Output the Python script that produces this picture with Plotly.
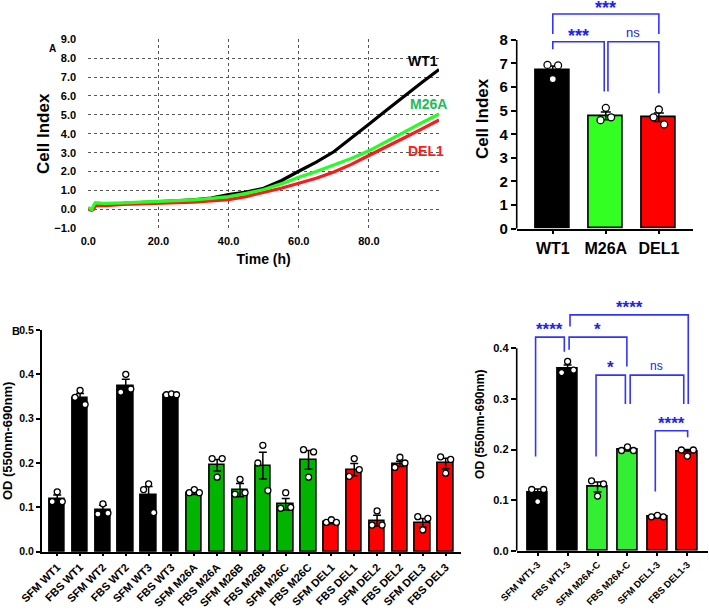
import plotly.graph_objects as go

FONT = "Liberation Sans, Arial, Helvetica, sans-serif"

# ---------------- Panel A (left): real-time cell index ----------------
time_h = [0, 1, 1.5, 2, 3, 5, 10, 15, 20, 25, 30, 35, 40, 45, 50, 55, 60, 65, 70, 75, 80, 85, 90, 95, 100]
wt1_ci = [0.05, 0.0, 0.1, 0.3, 0.32, 0.3, 0.32, 0.35, 0.38, 0.45, 0.5, 0.6, 0.78, 0.92, 1.12, 1.52, 2.02, 2.5, 3.05, 3.75, 4.5, 5.25, 6.0, 6.7, 7.4]
m26a_ci = [0.1, 0.0, 0.2, 0.35, 0.33, 0.32, 0.35, 0.38, 0.42, 0.45, 0.5, 0.58, 0.68, 0.85, 1.05, 1.35, 1.7, 2.0, 2.33, 2.7, 3.1, 3.6, 4.1, 4.58, 5.05]
del1_ci = [0.0, -0.05, 0.0, 0.18, 0.2, 0.2, 0.26, 0.28, 0.3, 0.33, 0.38, 0.45, 0.52, 0.68, 0.88, 1.12, 1.38, 1.65, 1.98, 2.38, 2.85, 3.3, 3.78, 4.25, 4.73]
line_x_ticks = [0, 20, 40, 60, 80]

# ---------------- Panel A (right): cell index bars ----------------
a_groups = ["WT1", "M26A", "DEL1"]
a_means = [6.7, 4.78, 4.72]
a_sems = [0.19, 0.16, 0.18]
a_points = [[6.94, 6.34, 6.92], [4.6, 5.12, 4.72], [4.72, 5.05, 4.42]]
a_yticks = [0, 1, 2, 3, 4, 5, 6, 7, 8]
# bracket: (x_left, x_right, y_top, y_left_end, y_right_end, label)
a_brackets = [
    (0.0, 2.0, 9.10, 8.25, 8.25, "***"),
    (0.0, 0.97, 7.92, 7.60, 5.81, "***"),
    (1.04, 2.0, 7.92, 5.81, 5.74, "ns"),
]

# ---------------- Panel B (left): OD per line ----------------
b_labels = ["SFM WT1", "FBS WT1", "SFM WT2", "FBS WT2", "SFM WT3", "FBS WT3",
            "SFM M26A", "FBS M26A", "SFM M26B", "FBS M26B", "SFM M26C", "FBS M26C",
            "SFM DEL1", "FBS DEL1", "SFM DEL2", "FBS DEL2", "SFM DEL3", "FBS DEL3"]
b_means = [0.118, 0.346, 0.093, 0.374, 0.127, 0.354,
           0.132, 0.195, 0.139, 0.194, 0.107, 0.207,
           0.066, 0.185, 0.070, 0.198, 0.065, 0.199]
b_sems = [0.010, 0.011, 0.012, 0.015, 0.020, 0.001,
          0.003, 0.013, 0.015, 0.030, 0.013, 0.021,
          0.003, 0.014, 0.012, 0.006, 0.010, 0.012]
b_points = [[0.113, 0.135, 0.113], [0.348, 0.364, 0.332], [0.085, 0.108, 0.087],
            [0.360, 0.400, 0.367], [0.140, 0.153, 0.088], [0.354, 0.356, 0.354],
            [0.133, 0.140, 0.133], [0.210, 0.168, 0.210], [0.130, 0.163, 0.133],
            [0.200, 0.240, 0.138], [0.098, 0.133, 0.100], [0.230, 0.168, 0.225],
            [0.066, 0.072, 0.066], [0.170, 0.210, 0.185], [0.060, 0.092, 0.060],
            [0.190, 0.213, 0.200], [0.079, 0.049, 0.075], [0.214, 0.177, 0.208]]
b_group = ["WT"] * 6 + ["M26"] * 6 + ["DEL"] * 6

# ---------------- Panel B (right): pooled OD ----------------
c_labels = ["SFM WT1-3", "FBS WT1-3", "SFM M26A-C", "FBS M26A-C", "SFM DEL1-3", "FBS DEL1-3"]
c_means = [0.114, 0.359, 0.126, 0.200, 0.067, 0.196]
c_sems = [0.008, 0.008, 0.010, 0.003, 0.002, 0.004]
c_points = [[0.121, 0.097, 0.121], [0.352, 0.374, 0.357], [0.138, 0.108, 0.132],
            [0.198, 0.205, 0.198], [0.067, 0.070, 0.067], [0.199, 0.187, 0.199]]
c_group = ["WT", "WT", "M26", "M26", "DEL", "DEL"]
c_yticks = [0.0, 0.1, 0.2, 0.3, 0.4]
c_brackets = [
    (-0.07, 0.89, 0.422, 0.186, 0.393, "****"),
    (1.05, 2.98, 0.422, 0.397, 0.364, "*"),
    (1.08, 5.03, 0.466, 0.443, 0.290, "****"),
    (1.95, 2.93, 0.347, 0.186, 0.290, "*"),
    (3.09, 4.88, 0.347, 0.290, 0.290, "ns"),
    (3.93, 5.01, 0.237, 0.117, 0.224, "****"),
]

# ---------------- styles ----------------
colA = {"WT": "#000000", "M26": "#33ff22", "DEL": "#ff0000"}
colB = {"WT": "#000000", "M26": "#00b400", "DEL": "#ff0000"}
colC = {"WT": "#000000", "M26": "#33ee33", "DEL": "#ff0000"}
BLUE = "#3333ff"
BLUE_TXT = "#2222ee"

fig = go.Figure()

# line chart
for name, ys, c in [("WT1", wt1_ci, "#000000"), ("DEL1", del1_ci, "#ff1a1a"), ("M26A", m26a_ci, "#22ff22")]:
    fig.add_trace(go.Scatter(x=time_h, y=ys, mode="lines", line=dict(color=c, width=3.2),
                             xaxis="x", yaxis="y", showlegend=False, name=name))


def bar_panel(xa, ya, means, sems, points, colors, width, offs, msize, capw):
    n = len(means)
    xs = list(range(n))
    fig.add_trace(go.Bar(x=xs, y=means, width=width, marker=dict(color=colors, line=dict(color="black", width=1.6)),
                         error_y=dict(type="data", array=sems, color="black", thickness=1.5, width=capw),
                         xaxis=xa, yaxis=ya, showlegend=False))
    px, py = [], []
    for i, pts in enumerate(points):
        for k, v in enumerate(pts):
            px.append(i + offs[k])
            py.append(v)
    fig.add_trace(go.Scatter(x=px, y=py, mode="markers", cliponaxis=False,
                             marker=dict(symbol="circle", color="white", size=msize, line=dict(color="black", width=1.3)),
                             xaxis=xa, yaxis=ya, showlegend=False))


bar_panel("x2", "y2", a_means, a_sems, a_points, [colA[g] for g in ["WT", "M26", "DEL"]], 0.65, [-0.1, 0, 0.1], 7, 5)
bar_panel("x3", "y3", b_means, b_sems, b_points, [colB[g] for g in b_group], 0.67, [-0.22, 0, 0.22], 6, 4)
bar_panel("x4", "y4", c_means, c_sems, c_points, [colC[g] for g in c_group], 0.68, [-0.2, 0, 0.2], 6, 4)

shapes = []
annotations = []


def brackets(xr, yr, specs, star_size, ns_size, star_shift):
    for x0, x1, yt, yl, yrr, lab in specs:
        shapes.append(dict(type="path", xref=xr, yref=yr,
                           path=f"M {x0},{yl} L {x0},{yt} L {x1},{yt} L {x1},{yrr}",
                           line=dict(color=BLUE, width=1.6)))
        is_ns = lab == "ns"
        annotations.append(dict(x=(x0 + x1) / 2, y=yt, xref=xr, yref=yr, text=lab, showarrow=False,
                                yanchor="bottom", yshift=0 if is_ns else star_shift,
                                font=dict(family=FONT, size=ns_size if is_ns else star_size, color=BLUE_TXT,
                                          weight="normal" if is_ns else "bold")))


brackets("x2", "y2", a_brackets, 18, 13, -6)
brackets("x4", "y4", c_brackets, 17, 12, -4)

# custom y-axis lines (shorter than the extended ranges)
shapes.append(dict(type="line", xref="x2 domain", yref="y2", x0=0, x1=0, y0=0, y1=max(a_yticks),
                   line=dict(color="black", width=1.6)))
shapes.append(dict(type="line", xref="x4 domain", yref="y4", x0=0, x1=0, y0=0, y1=max(c_yticks),
                   line=dict(color="black", width=1.6)))

# line chart curve labels
for txt, xv, yv, c in [("WT1", 95.3, 7.85, "#000000"), ("M26A", 97.0, 5.57, "#22bb55"), ("DEL1", 96.3, 3.09, "#ff1a1a")]:
    annotations.append(dict(x=xv, y=yv, xref="x", yref="y", text=txt, showarrow=False,
                            font=dict(family=FONT, size=14, color=c, weight="bold")))

# panel letters
annotations.append(dict(x=47 / 709, y=1 - 41 / 610, xref="paper", yref="paper", text="A", showarrow=False,
                        font=dict(family=FONT, size=10, color="black", weight="bold")))
annotations.append(dict(x=10 / 709, y=1 - 331 / 610, xref="paper", yref="paper", text="B", showarrow=False,
                        font=dict(family=FONT, size=11, color="black", weight="bold")))

tf = lambda s: dict(family=FONT, size=s, color="black", weight="bold")

fig.update_layout(
    width=709, height=610, margin=dict(l=0, r=0, t=0, b=0, autoexpand=False),
    paper_bgcolor="white", plot_bgcolor="white",
    font=dict(family=FONT, color="black"),
    bargap=0,
    shapes=shapes, annotations=annotations,
    xaxis=dict(domain=[0.1245, 0.6192], range=[0, 100], tickvals=line_x_ticks, tickformat=".1f",
               showgrid=True, gridcolor="#555555", griddash="dot", gridwidth=1, zeroline=False, showline=False,
               ticks="outside", ticklen=2, tickcolor="rgba(0,0,0,0)", tickfont=tf(11), automargin=False,
               title=dict(text="Time (h)", font=tf(14), standoff=8), anchor="y"),
    yaxis=dict(domain=[0.6257, 0.9356], range=[-1, 9], dtick=1, tickformat=".1f",
               showgrid=True, gridcolor="#555555", griddash="dot", gridwidth=1, zeroline=False, showline=False,
               ticks="outside", ticklen=9, tickcolor="rgba(0,0,0,0)", tickfont=tf(11), automargin=False,
               title=dict(text="Cell Index", font=tf(17), standoff=0), anchor="x"),
    xaxis2=dict(domain=[0.7288, 0.9779], range=[-0.68, 2.65], tickvals=[0, 1, 2], ticktext=a_groups,
                showgrid=False, zeroline=False, showline=True, linecolor="black", linewidth=1.6, automargin=False,
                ticks="outside", ticklen=4, tickwidth=1.5, tickcolor="black", tickfont=tf(16), anchor="y2"),
    yaxis2=dict(domain=[0.6251, 0.9849], range=[0, 9.3], tickvals=a_yticks,
                showgrid=False, zeroline=False, showline=False, automargin=False,
                ticks="outside", ticklen=5, tickwidth=1.5, tickcolor="black", tickfont=tf(15),
                title=dict(text="Cell Index", font=tf(17), standoff=6), anchor="x2"),
    xaxis3=dict(domain=[0.0588, 0.6498], range=[-0.68, 17.66], tickvals=list(range(len(b_labels))),
                ticktext=b_labels, tickangle=-45, automargin=False,
                showgrid=False, zeroline=False, showline=True, linecolor="black", linewidth=1.6,
                ticks="outside", ticklen=3, tickwidth=1.5, tickcolor="black", tickfont=tf(11), anchor="y3"),
    yaxis3=dict(domain=[0.0956, 0.4590], range=[0, 0.5], dtick=0.1, tickformat=".1f", automargin=False,
                showgrid=False, zeroline=False, showline=True, linecolor="black", linewidth=1.6,
                ticks="outside", ticklen=4, tickwidth=1.5, tickcolor="black", tickfont=tf(10.5),
                title=dict(text="OD (550nm-690nm)", font=tf(13), standoff=7), anchor="x3"),
    xaxis4=dict(domain=[0.7288, 0.999], range=[-0.7, 5.7], tickvals=list(range(len(c_labels))),
                ticktext=c_labels, tickangle=-45, automargin=False,
                showgrid=False, zeroline=False, showline=True, linecolor="black", linewidth=1.6,
                ticks="outside", ticklen=3, tickwidth=1.5, tickcolor="black", tickfont=tf(9.5), anchor="y4"),
    yaxis4=dict(domain=[0.0972, 0.5120], range=[0, 0.5], tickvals=c_yticks, tickformat=".1f", automargin=False,
                showgrid=False, zeroline=False, showline=False,
                ticks="outside", ticklen=5, tickwidth=1.5, tickcolor="black", tickfont=tf(11),
                title=dict(text="OD (550nm-690nm)", font=tf(12), standoff=6), anchor="x4"),
)

fig.write_html("out.html", config={"displayModeBar": False},
               post_script="document.body.style.margin='0';document.body.style.overflow='hidden';")
